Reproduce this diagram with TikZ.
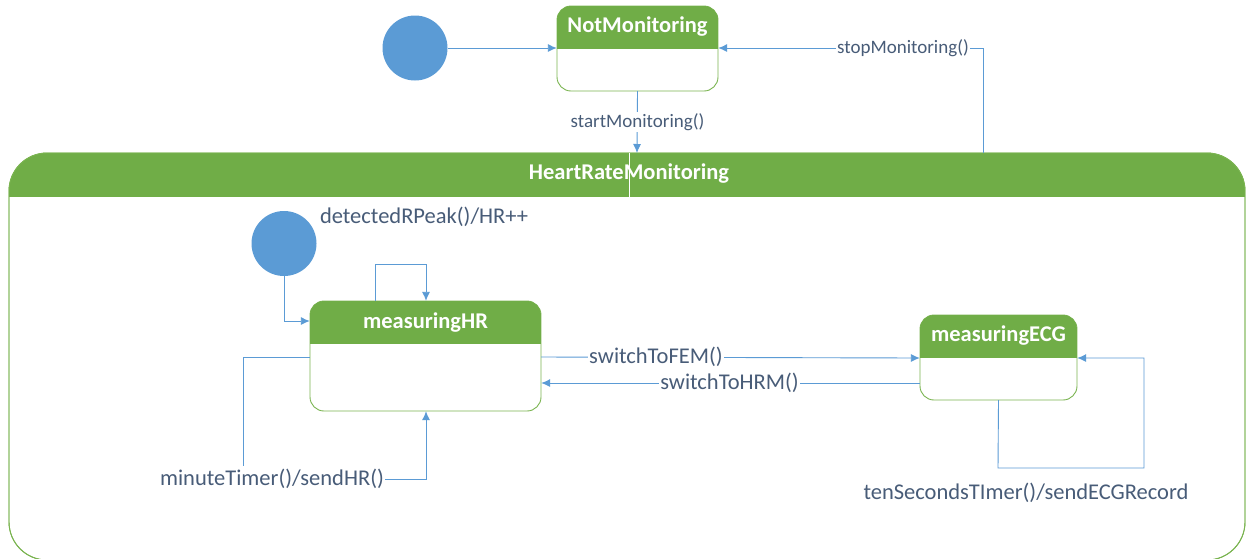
\documentclass[tikz,border=0pt]{standalone}
\usepackage{fontspec}
\setmainfont{Carlito}
\usetikzlibrary{arrows.meta}
\definecolor{hdrgreen}{RGB}{112,173,71}
\definecolor{edgegreen}{RGB}{122,180,80}
\definecolor{arrblue}{RGB}{91,155,213}
\definecolor{lblcol}{RGB}{72,92,120}
\tikzset{
  statebox/.style={draw=edgegreen, line width=0.9pt, fill=white},
  hdrtext/.style={text=white, font=\bfseries\fontsize{22.5}{24}\selectfont, inner sep=0pt},
  arr/.style={draw=arrblue, line width=0.9pt, -{Latex[length=9pt,width=8pt]}},
  conn/.style={draw=arrblue, line width=0.9pt},
  lbl/.style={text=lblcol, fill=white, inner sep=1pt, font=\fontsize{22.5}{24}\selectfont},
  slbl/.style={text=lblcol, fill=white, inner sep=1pt, font=\fontsize{19}{21}\selectfont},
  initial/.style={circle, fill=arrblue, minimum size=65pt, inner sep=0pt},
}
\begin{document}
\begin{tikzpicture}[x=1pt,y=-1pt]
\useasboundingbox (0,0) rectangle (1247,558);

% ---- container HeartRateMonitoring
\path[statebox, rounded corners=38pt] (9,153) rectangle (1245,560);
\begin{scope}
  \clip[rounded corners=38pt] (9,153) rectangle (1245,560);
  \fill[hdrgreen] (9,153) rectangle (1245,197);
\end{scope}
\path[draw=edgegreen, line width=0.9pt, rounded corners=38pt] (9,153) rectangle (1245,560);
\coordinate (hrmTopStart) at (637,153);
\coordinate (hrmTopStop) at (983,153);
\draw[white, line width=0.6pt] (629,153) -- (629,197);
\node[hdrtext] (hrmT) at (629,174) {HeartRateMonitoring};

% ---- NotMonitoring
\path[statebox, rounded corners=14pt] (557,6) rectangle (718,91);
\begin{scope}
  \clip[rounded corners=14pt] (557,6) rectangle (718,91);
  \fill[hdrgreen] (557,6) rectangle (718,49);
\end{scope}
\node[minimum width=161pt, minimum height=85pt, inner sep=0pt] (nm) at (637.5,48.5) {};
\node[hdrtext] (nmT) at (637.5,27) {NotMonitoring};

% ---- measuringHR
\path[statebox, rounded corners=14pt] (310,301) rectangle (541,411);
\begin{scope}
  \clip[rounded corners=14pt] (310,301) rectangle (541,411);
  \fill[hdrgreen] (310,301) rectangle (541,344);
\end{scope}
\node[minimum width=231pt, minimum height=110pt, inner sep=0pt] (hr) at (425.5,356) {};
\node[hdrtext] (hrT) at (425.5,323) {measuringHR};

% ---- measuringECG
\path[statebox, rounded corners=14pt] (920,315) rectangle (1077,400);
\begin{scope}
  \clip[rounded corners=14pt] (920,315) rectangle (1077,400);
  \fill[hdrgreen] (920,315) rectangle (1077,358);
\end{scope}
\node[minimum width=157pt, minimum height=85pt, inner sep=0pt] (ecg) at (998.5,357.5) {};
\node[hdrtext] (ecgT) at (998.5,336) {measuringECG};

% ---- initial states
\node[initial] (init1) at (415,48) {};
\node[initial] (init2) at (284,243.5) {};

% ---- connectors
\draw[arr] (init1.east) -- (nm.west |- init1.east);
\draw[arr] (nm.south) -- (hrmTopStart);
\coordinate (stopCorner) at (983,48);
\draw[arr] (hrmTopStop) -- (stopCorner) -- (nm.east |- stopCorner);

\draw[arr] (init2.south) |- (hr.west |- 0,321);
\coordinate (selfA) at (375,264);
\coordinate (selfB) at (426,264);
\draw[arr] (hr.north -| selfA) -- (selfA) -- (selfB) -- (hr.north -| selfB);

\draw[arr] (hr.east |- 0,357) -- (ecg.west |- 0,358);
\draw[arr] (ecg.west |- 0,383) -- (hr.east |- 0,383);

\coordinate (mtA) at (243,357);
\coordinate (mtB) at (243,466);
\draw[conn] (hr.west |- mtA) -- (mtA) -- (mtB);
\node[lbl, fill=none] (mtL) at (272,479) {minuteTimer()/sendHR()};
\coordinate (mtC) at (426,479);
\draw[arr] (mtL.east) -- (mtC) -- (hr.south -| mtC);

\coordinate (ecA) at (998,468);
\coordinate (ecB) at (1144,468);
\coordinate (ecC) at (1144,358);
\draw[arr] (ecg.south) -- (ecA) -- (ecB) -- (ecC) -- (ecg.east |- ecC);

% ---- labels
\node[slbl] (stopL) at (903,48) {stopMonitoring()};
\node[slbl] (startL) at (637.5,122) {startMonitoring()};
\node[lbl, fill=none] (drL) at (424,217) {detectedRPeak()/HR++};
\node[lbl] (fem) at (656,357) {switchToFEM()};
\node[lbl] (hrm) at (729.5,383) {switchToHRM()};
\node[lbl, fill=none] (tenL) at (1026,493) {tenSecondsTImer()/sendECGRecord};
\end{tikzpicture}
\end{document}
